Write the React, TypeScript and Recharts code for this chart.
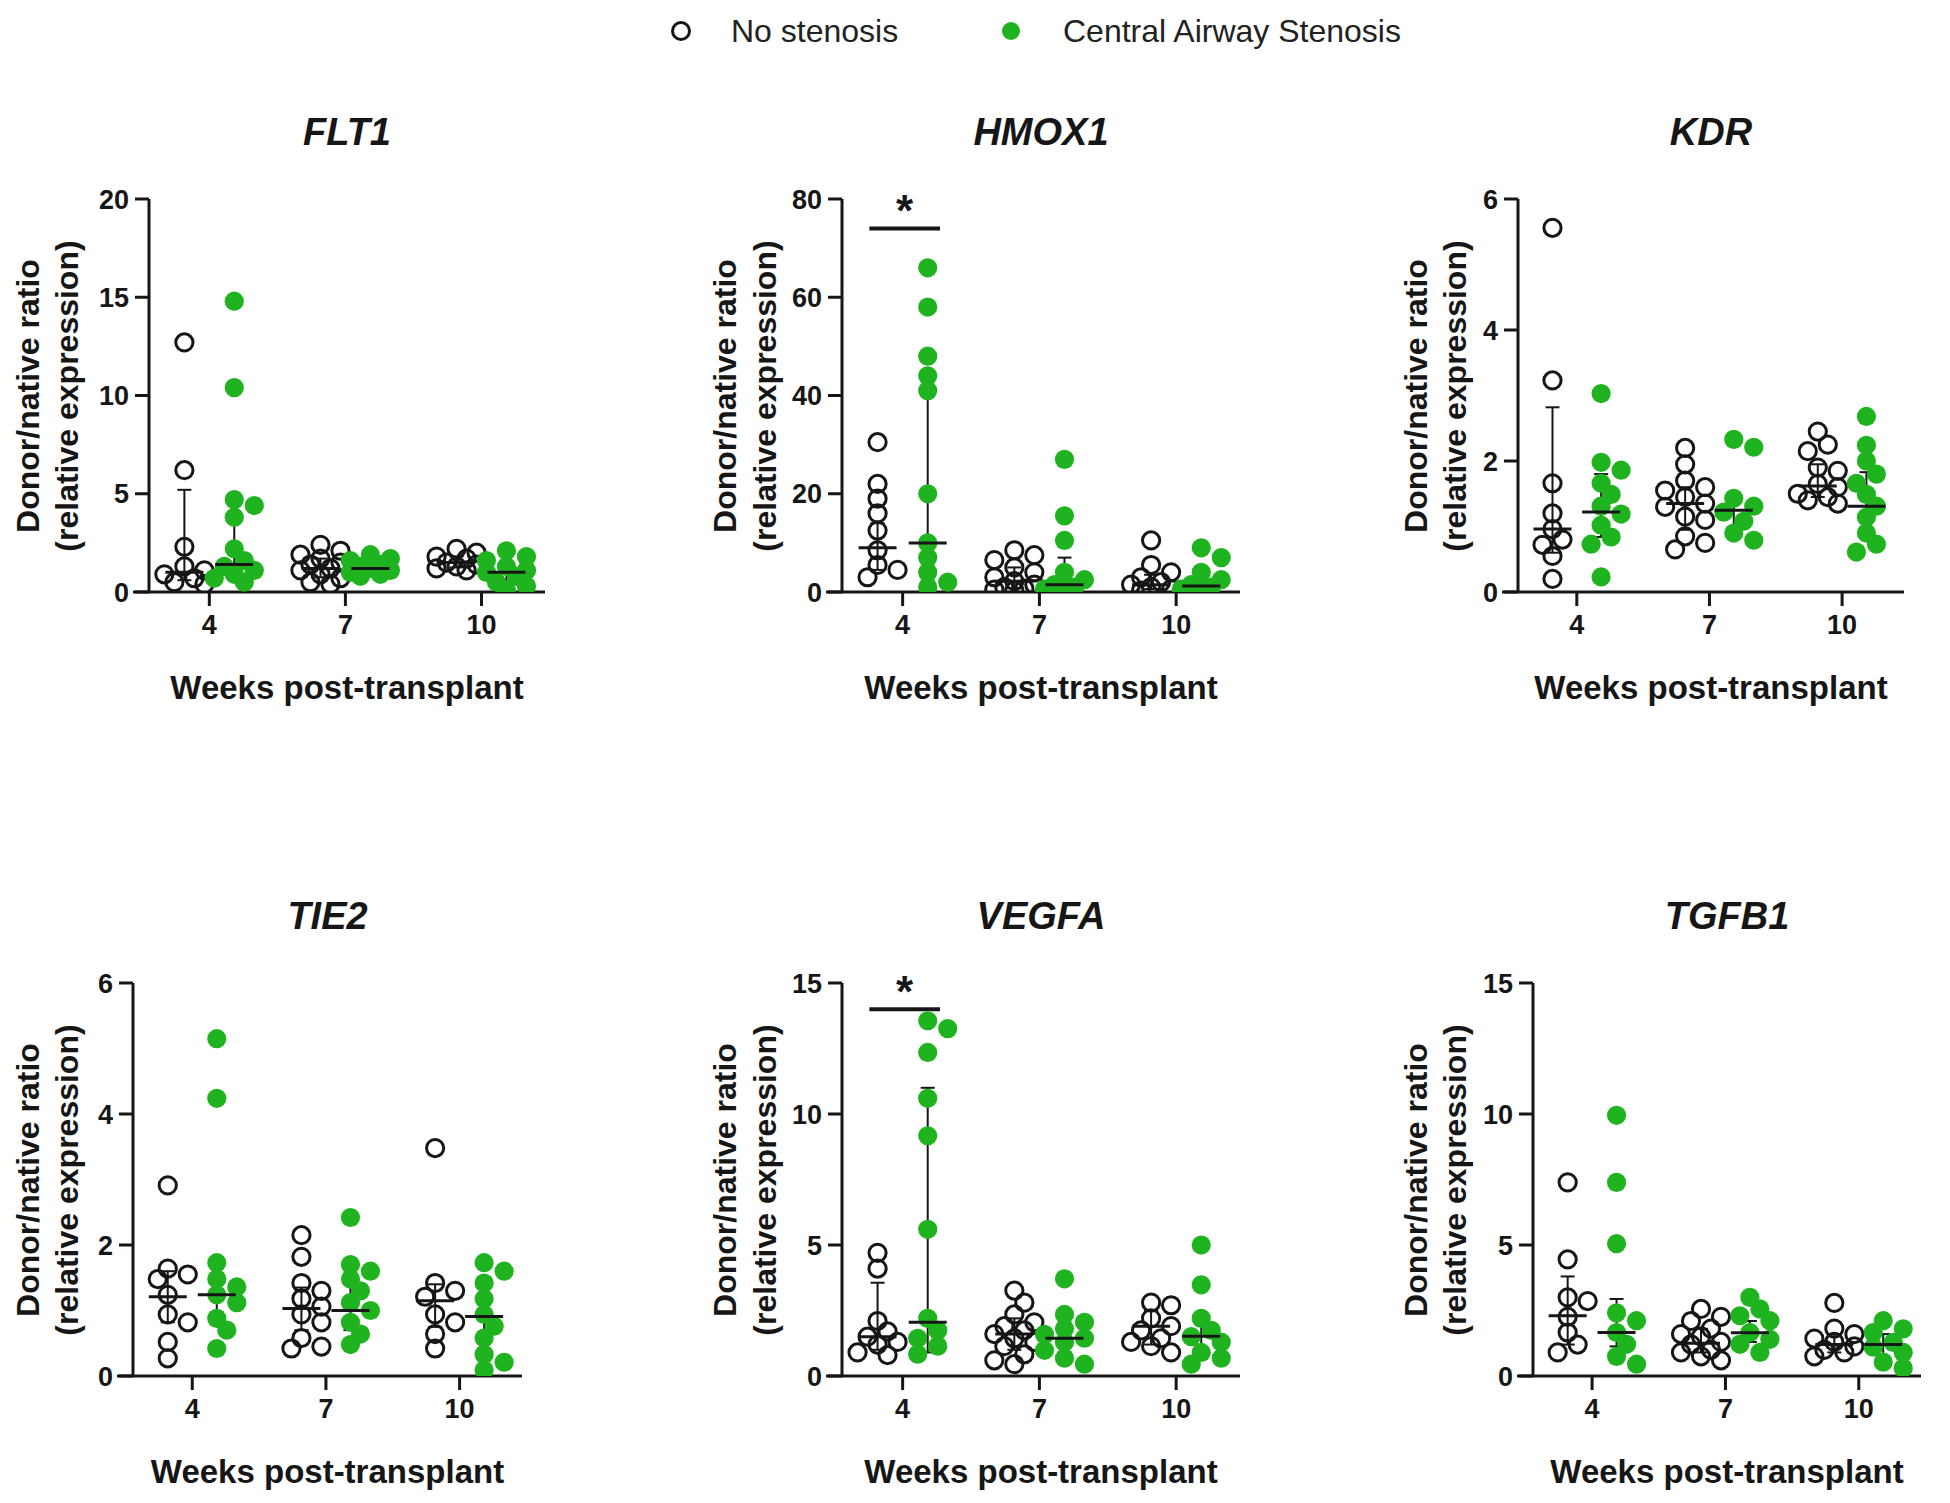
import React from 'react';
import { ScatterChart, Scatter, XAxis, YAxis, ReferenceLine, ErrorBar } from 'recharts';

// ---------------- DATA ----------------
const weeks = [4, 7, 10];
const legendLabels = ['No stenosis', 'Central Airway Stenosis'];
const yAxisLabel = ['Donor/native ratio', '(relative expression)'];
const xAxisLabel = 'Weeks post-transplant';

// each gene: values per week [wk4, wk7, wk10]; stats per week [median, q1, q3]
const flt1Ticks = [0, 5, 10, 15, 20];
const flt1None = [
  [12.7, 6.2, 2.3, 1.3, 1.1, 0.9, 0.7, 0.5, 0.4],
  [2.4, 2.1, 1.9, 1.7, 1.5, 1.4, 1.2, 1.1, 0.9, 0.7, 0.5, 0.4],
  [2.2, 2.0, 1.8, 1.7, 1.5, 1.4, 1.3, 1.2, 1.1],
];
const flt1Cas = [
  [14.8, 10.4, 4.7, 4.4, 3.8, 2.2, 1.6, 1.3, 1.1, 0.9, 0.7, 0.5],
  [1.9, 1.7, 1.6, 1.4, 1.3, 1.2, 1.1, 1.0, 0.9, 0.8],
  [2.1, 1.8, 1.6, 1.3, 1.1, 1.0, 0.8, 0.5, 0.3, 0.1],
];
const flt1NoneStats = [[1.0, 0.6, 5.2], [1.2, 0.75, 1.7], [1.5, 1.25, 1.8]];
const flt1CasStats = [[1.4, 0.8, 3.7], [1.2, 0.95, 1.5], [1.0, 0.5, 1.4]];

const hmox1Ticks = [0, 20, 40, 60, 80];
const hmox1None = [
  [30.5, 22, 19, 16, 12.5, 8.5, 5.5, 4.5, 3],
  [8.5, 7.5, 6.5, 5, 4, 3, 2.2, 1.5, 1.0, 0.7, 0.5, 0.3],
  [10.5, 5.5, 4, 3, 2, 1.5, 1, 0.6, 0.3],
];
const hmox1Cas = [
  [66, 58, 48, 44, 41, 20, 10, 7, 4, 2, 1],
  [27, 15.5, 10.5, 4, 2.5, 1.5, 1, 0.6, 0.3],
  [9, 7, 4, 2.5, 1.5, 1, 0.6, 0.3],
];
const hmox1NoneStats = [[9, 4.5, 14], [2.2, 0.8, 5], [1.5, 0.6, 3.5]];
const hmox1CasStats = [[10, 3.5, 45], [1.5, 0.7, 7], [1.2, 0.5, 3]];
const hmox1Sig = 74;

const kdrTicks = [0, 2, 4, 6];
const kdrNone = [
  [5.56, 3.23, 1.66, 1.2, 0.96, 0.8, 0.72, 0.55, 0.2],
  [2.2, 1.95, 1.7, 1.6, 1.55, 1.45, 1.35, 1.3, 1.15, 1.1, 0.85, 0.75, 0.65],
  [2.45, 2.25, 2.15, 1.9, 1.85, 1.65, 1.6, 1.5, 1.45, 1.4, 1.35],
];
const kdrCas = [
  [3.03, 1.98, 1.86, 1.66, 1.49, 1.31, 1.19, 1.02, 0.84, 0.73, 0.23],
  [2.33, 2.21, 1.43, 1.31, 1.22, 1.08, 0.9, 0.79],
  [2.68, 2.24, 2.0, 1.8, 1.66, 1.49, 1.31, 1.14, 0.9, 0.73, 0.61],
];
const kdrNoneStats = [[0.96, 0.6, 2.82], [1.35, 0.95, 1.6], [1.62, 1.45, 1.95]];
const kdrCasStats = [[1.22, 0.84, 1.8], [1.25, 0.98, 1.45], [1.31, 0.85, 1.83]];

const tie2Ticks = [0, 2, 4, 6];
const tie2None = [
  [2.91, 1.64, 1.55, 1.48, 1.24, 0.94, 0.82, 0.52, 0.27],
  [2.15, 1.82, 1.42, 1.3, 1.18, 1.06, 0.94, 0.82, 0.58, 0.45, 0.42],
  [3.48, 1.42, 1.3, 1.21, 0.94, 0.82, 0.64, 0.42],
];
const tie2Cas = [
  [5.15, 4.24, 1.73, 1.48, 1.36, 1.24, 1.12, 0.88, 0.7, 0.42],
  [2.42, 1.7, 1.6, 1.48, 1.3, 1.12, 1.0, 0.82, 0.64, 0.48],
  [1.73, 1.6, 1.42, 1.18, 0.94, 0.76, 0.58, 0.33, 0.21, 0.09],
];
const tie2NoneStats = [[1.21, 0.82, 1.6], [1.03, 0.7, 1.35], [1.15, 0.75, 1.4]];
const tie2CasStats = [[1.24, 0.97, 1.52], [1.0, 0.7, 1.42], [0.91, 0.52, 1.48]];

const vegfaTicks = [0, 5, 10, 15];
const vegfaNone = [
  [4.7, 4.1, 2.1, 1.7, 1.5, 1.3, 1.2, 0.9, 0.8],
  [3.26, 2.8, 2.35, 2.05, 1.9, 1.74, 1.6, 1.44, 1.3, 1.14, 0.83, 0.6, 0.45],
  [2.8, 2.7, 2.2, 1.9, 1.74, 1.44, 1.3, 1.14, 0.9],
];
const vegfaCas = [
  [13.56, 13.26, 12.35, 10.6, 9.17, 5.6, 2.2, 1.74, 1.44, 1.14, 0.83],
  [3.71, 2.35, 2.05, 1.8, 1.59, 1.44, 1.29, 0.98, 0.68, 0.45],
  [5.0, 3.48, 2.2, 1.74, 1.5, 1.29, 0.9, 0.68, 0.45],
];
const vegfaNoneStats = [[1.5, 1.0, 3.56], [1.6, 1.0, 2.2], [1.9, 1.2, 2.5]];
const vegfaCasStats = [[2.05, 0.9, 11.0], [1.44, 0.9, 2.0], [1.52, 0.83, 2.05]];
const vegfaSig = 14;

const tgfb1Ticks = [0, 5, 10, 15];
const tgfb1None = [
  [7.39, 4.45, 3.0, 2.86, 2.26, 1.66, 1.2, 0.9],
  [2.56, 2.26, 2.1, 1.81, 1.6, 1.51, 1.3, 1.21, 1.0, 0.9, 0.75, 0.6],
  [2.79, 1.81, 1.6, 1.43, 1.3, 1.13, 1.0, 0.9, 0.75],
];
const tgfb1Cas = [
  [9.95, 7.39, 5.05, 2.41, 2.11, 1.66, 1.21, 0.75, 0.45],
  [3.0, 2.56, 2.3, 2.11, 1.66, 1.4, 1.21, 0.9],
  [2.11, 1.8, 1.66, 1.28, 1.1, 0.9, 0.53, 0.3],
];
const tgfb1NoneStats = [[2.3, 1.2, 3.8], [1.25, 0.9, 1.8], [1.2, 0.9, 1.6]];
const tgfb1CasStats = [[1.66, 1.13, 2.94], [1.65, 1.3, 2.1], [1.2, 0.6, 1.6]];

// ---------------- STYLE / LAYOUT ----------------
const FONT = '"Liberation Sans", Arial, Helvetica, sans-serif';
const INK = '#161616';
const GREEN = '#1fb41f';
const PLOT_H = 393;
const X_DOMAIN: [number, number] = [2.67, 11.4];
const GROUP_SHIFT = 0.55;
const DOT = 20;

type Panel = {
  title: string;
  none: number[][];
  cas: number[][];
  noneStats: number[][];
  casStats: number[][];
  ticks: number[];
  x0: number;
  top: number;
  pw: number;
  col: number;
  sig?: number;
};

const panels: Panel[] = [
  { title: 'FLT1', none: flt1None, cas: flt1Cas, noneStats: flt1NoneStats, casStats: flt1CasStats, ticks: flt1Ticks, x0: 149, top: 199, pw: 396, col: 0 },
  { title: 'HMOX1', none: hmox1None, cas: hmox1Cas, noneStats: hmox1NoneStats, casStats: hmox1CasStats, ticks: hmox1Ticks, x0: 842, top: 199, pw: 398, col: 1, sig: hmox1Sig },
  { title: 'KDR', none: kdrNone, cas: kdrCas, noneStats: kdrNoneStats, casStats: kdrCasStats, ticks: kdrTicks, x0: 1518, top: 199, pw: 386, col: 2 },
  { title: 'TIE2', none: tie2None, cas: tie2Cas, noneStats: tie2NoneStats, casStats: tie2CasStats, ticks: tie2Ticks, x0: 133, top: 983, pw: 389, col: 0 },
  { title: 'VEGFA', none: vegfaNone, cas: vegfaCas, noneStats: vegfaNoneStats, casStats: vegfaCasStats, ticks: vegfaTicks, x0: 842, top: 983, pw: 398, col: 1, sig: vegfaSig },
  { title: 'TGFB1', none: tgfb1None, cas: tgfb1Cas, noneStats: tgfb1NoneStats, casStats: tgfb1CasStats, ticks: tgfb1Ticks, x0: 1533, top: 983, pw: 388, col: 2 },
];

const yLabelX = [[28, 67], [725, 765], [1416, 1455]];

// deterministic beeswarm layout: returns horizontal offsets in px
function swarm(values: number[], pxPerUnit: number): number[] {
  const placed: { x: number; y: number }[] = [];
  const order = values.map((_, i) => i).sort((a, b) => values[b] - values[a]);
  const out = new Array(values.length).fill(0);
  const step = DOT * 0.5;
  for (const i of order) {
    const y = values[i] * pxPerUnit;
    let best = 0;
    let bestScore = -1;
    for (let k = 0; k < 5; k++) {
      const off = k === 0 ? 0 : (k % 2 ? 1 : -1) * Math.ceil(k / 2) * step;
      let minD = Infinity;
      for (const p of placed) minD = Math.min(minD, Math.hypot(p.x - off, p.y - y));
      if (minD >= DOT * 0.72) { best = off; bestScore = Infinity; break; }
      if (minD > bestScore) { bestScore = minD; best = off; }
    }
    placed.push({ x: best, y });
    out[i] = best;
  }
  return out;
}

const OpenDot = (p: any) =>
  p.cx == null ? null : <circle cx={p.cx} cy={p.cy} r={8.6} fill="none" stroke={INK} strokeWidth={3} />;
const FilledDot = (p: any) =>
  p.cx == null ? null : <circle cx={p.cx} cy={p.cy} r={9.6} fill={GREEN} />;
const MedianLine = (p: any) =>
  p.cx == null ? null : <line x1={p.cx - 19} x2={p.cx + 19} y1={p.cy} y2={p.cy} stroke={INK} strokeWidth={3} />;

const tickStyle = { fontSize: 27, fontWeight: 700, fill: INK, fontFamily: FONT };

function PanelChart({ panel }: { panel: Panel }) {
  const ymax = panel.ticks[panel.ticks.length - 1];
  const pxPerUnit = PLOT_H / ymax;
  const pxPerWeek = panel.pw / (X_DOMAIN[1] - X_DOMAIN[0]);
  const build = (groups: number[][], shift: number) => {
    const pts: { x: number; y: number }[] = [];
    groups.forEach((vals, wi) => {
      const offs = swarm(vals, pxPerUnit);
      vals.forEach((v, i) => pts.push({ x: weeks[wi] + shift + offs[i] / pxPerWeek, y: v }));
    });
    return pts;
  };
  const stats = (s: number[][], shift: number) =>
    s.map((st, wi) => ({ x: weeks[wi] + shift, y: st[0], err: [st[0] - st[1], st[2] - st[0]] }));

  const nonePts = build(panel.none, -GROUP_SHIFT);
  const casPts = build(panel.cas, GROUP_SHIFT);
  const noneMed = stats(panel.noneStats, -GROUP_SHIFT);
  const casMed = stats(panel.casStats, GROUP_SHIFT);
  const topM = 20;
  const W = 150 + panel.pw + 30;
  const H = topM + PLOT_H + 70;
  const axisStart = X_DOMAIN[0] - 16 / pxPerWeek;

  return (
    <div style={{ position: 'absolute', left: panel.x0 - 150, top: panel.top - topM }}>
      <ScatterChart width={W} height={H} margin={{ top: topM, right: 30, left: 0, bottom: 0 }}>
        <XAxis
          type="number"
          dataKey="x"
          domain={X_DOMAIN}
          ticks={weeks}
          interval={0}
          allowDataOverflow
          axisLine={false}
          tickLine={{ stroke: INK, strokeWidth: 3 }}
          tickSize={14}
          tickMargin={9}
          tick={tickStyle}
          height={70}
        />
        <YAxis
          type="number"
          dataKey="y"
          domain={[0, ymax]}
          ticks={panel.ticks}
          interval={0}
          allowDataOverflow
          axisLine={{ stroke: INK, strokeWidth: 3 }}
          tickLine={{ stroke: INK, strokeWidth: 3 }}
          tickSize={14}
          tickMargin={6}
          tick={tickStyle}
          width={150}
        />
        <Scatter data={nonePts} shape={OpenDot} isAnimationActive={false} />
        <Scatter data={casPts} shape={FilledDot} isAnimationActive={false} />
        <ReferenceLine
          segment={[{ x: axisStart, y: 0 }, { x: X_DOMAIN[1], y: 0 }]}
          stroke={INK}
          strokeWidth={3}
          ifOverflow="visible"
        />
        <Scatter data={noneMed} shape={MedianLine} isAnimationActive={false}>
          <ErrorBar dataKey="err" direction="y" width={7} strokeWidth={2} stroke={INK} isAnimationActive={false} />
        </Scatter>
        <Scatter data={casMed} shape={MedianLine} isAnimationActive={false}>
          <ErrorBar dataKey="err" direction="y" width={7} strokeWidth={2} stroke={INK} isAnimationActive={false} />
        </Scatter>
        {panel.sig != null && (
          <ReferenceLine
            segment={[{ x: 3.27, y: panel.sig }, { x: 4.82, y: panel.sig }]}
            stroke={INK}
            strokeWidth={4}
            ifOverflow="visible"
            label={{ value: '*', position: 'top', offset: 2, fontSize: 44, fontWeight: 700, fill: INK, fontFamily: FONT }}
          />
        )}
      </ScatterChart>
    </div>
  );
}

function centered(x: number, y: number, style: React.CSSProperties, text: string, rotate = false) {
  return (
    <div
      key={text + x + y}
      style={{
        position: 'absolute',
        left: x,
        top: y,
        transform: `translate(-50%, -50%)${rotate ? ' rotate(-90deg)' : ''}`,
        whiteSpace: 'nowrap',
        fontFamily: FONT,
        color: INK,
        lineHeight: 1,
        ...style,
      }}
    >
      {text}
    </div>
  );
}

export default function App() {
  return (
    <div style={{ position: 'absolute', left: 0, top: 0, width: 1950, height: 1503, background: '#fff', overflow: 'hidden' }}>
      {/* legend */}
      <svg style={{ position: 'absolute', left: 0, top: 0 }} width={1950} height={60}>
        <circle cx={681} cy={31} r={8.5} fill="none" stroke={INK} strokeWidth={3} />
        <circle cx={1011} cy={31} r={9} fill={GREEN} />
      </svg>
      <div style={{ position: 'absolute', left: 731, top: 31, transform: 'translateY(-50%)', fontFamily: FONT, fontSize: 32, color: '#222', lineHeight: 1, whiteSpace: 'nowrap' }}>
        {legendLabels[0]}
      </div>
      <div style={{ position: 'absolute', left: 1063, top: 31, transform: 'translateY(-50%)', fontFamily: FONT, fontSize: 32, color: '#222', lineHeight: 1, whiteSpace: 'nowrap' }}>
        {legendLabels[1]}
      </div>

      {panels.map((p) => {
        const cx = p.x0 + p.pw / 2;
        const titleY = p.top - 67;
        const midY = p.top + PLOT_H / 2;
        const xlabY = p.top + PLOT_H + 95;
        return (
          <React.Fragment key={p.title}>
            {centered(cx, titleY, { fontSize: 38, fontWeight: 700, fontStyle: 'italic' }, p.title)}
            {centered(yLabelX[p.col][0], midY, { fontSize: 32, fontWeight: 700 }, yAxisLabel[0], true)}
            {centered(yLabelX[p.col][1], midY, { fontSize: 32, fontWeight: 700 }, yAxisLabel[1], true)}
            {centered(cx, xlabY, { fontSize: 33, fontWeight: 700 }, xAxisLabel)}
            <PanelChart panel={p} />
          </React.Fragment>
        );
      })}
    </div>
  );
}
